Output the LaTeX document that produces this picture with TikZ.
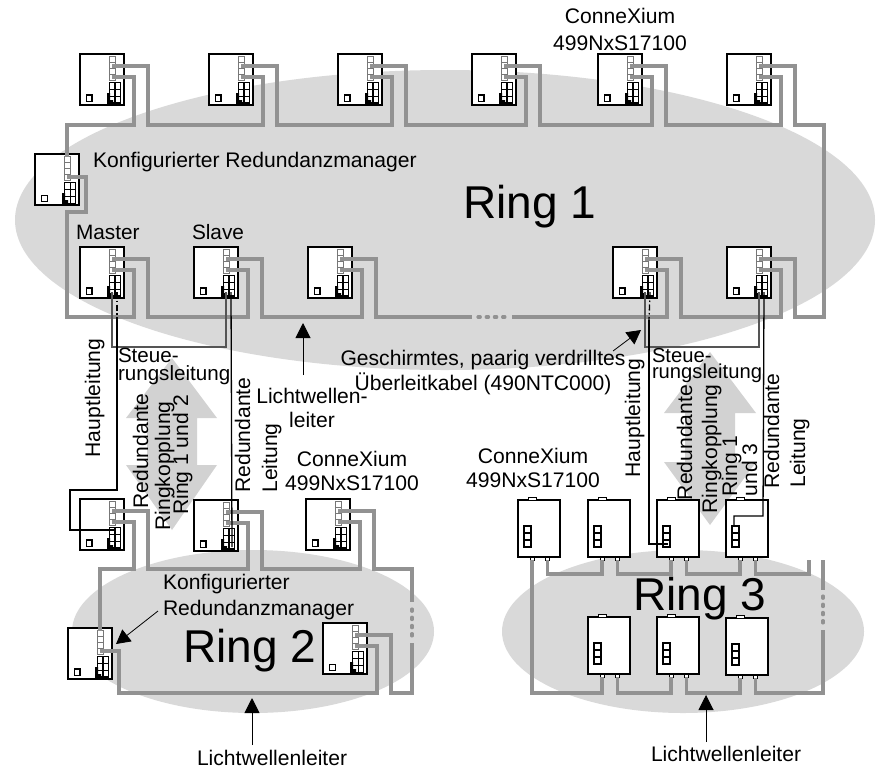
\documentclass[tikz,border=0pt]{standalone}
\usepackage{fontspec}
\setmainfont{Liberation Sans}
\usetikzlibrary{arrows.meta}
\definecolor{ringgray}{HTML}{D9D9D9}
\definecolor{arrowgray}{HTML}{D2D2D2}
\definecolor{cablegray}{HTML}{929292}
\definecolor{portgray}{HTML}{777777}
\definecolor{copper}{HTML}{555555}
\tikzset{
  swbox/.style={draw=black,fill=white,line width=1.3pt,inner sep=0pt,outer sep=0pt,minimum width=44pt,minimum height=51pt,anchor=north west},
  swtall/.style={draw=black,fill=white,line width=1.3pt,inner sep=0pt,outer sep=0pt,minimum width=42pt,minimum height=57pt,anchor=north west},
  cable/.style={draw=cablegray,line width=3.2pt,line join=miter},
  cabledots/.style={draw=cablegray,line width=3.2pt,line cap=round,dash pattern=on 2.3pt off 5.9pt},
  wire/.style={draw=black,line width=1.3pt},
  wiredash/.style={draw=black,line width=1.3pt,dash pattern=on 6pt off 2.5pt on 1.5pt off 2.5pt},
  copperwire/.style={draw=copper,line width=2.6pt},
  ptr/.style={draw=black,line width=1pt,-{Triangle[length=15pt,width=15pt]}},
  ptrs/.style={draw=black,line width=.8pt,-{Triangle[length=14pt,width=15pt]}},
  lab/.style={font=\fontsize{21.1}{23}\selectfont,inner sep=0pt,outer sep=0pt,anchor=base west},
  rlab/.style={font=\fontsize{21.1}{23}\selectfont,inner sep=0pt,outer sep=0pt,rotate=90,anchor=base},
  big/.style={font=\fontsize{46}{50}\selectfont,inner sep=0pt,outer sep=0pt,anchor=base west},
}
% switch with port column and terminal grid: name, x, y, grid line width
\newcommand{\swa}[4]{%
  \begin{scope}[shift={(#2,#3)}]
    \node[swbox] (#1) at (0,0) {};
    \draw[line width=#4] (6.5,41) rectangle (12,47.5);
    \draw[line width=#4] (29.5,28.5) rectangle (40.5,49);
    \draw[line width=#4] (35,28.5) -- (35,49) (29.5,35.5) -- (40.5,35.5) (29.5,42.5) -- (40.5,42.5);
    \fill[black] (27,39) -- (30,39) -- (30,46) -- (33,46) -- (33,50) -- (27,50) -- cycle;
    \foreach \yy in {2.5,8.5,14.5,20.5}
      \draw[line width=.8pt,draw=portgray,fill=white] (29.5,\yy) rectangle (35.5,\yy+6);
    \coordinate (#1-p1) at (32,3);
    \coordinate (#1-p2) at (32,12);
    \coordinate (#1-p3) at (32,23);
    \coordinate (#1-o2) at (68,12);
    \coordinate (#1-o3) at (54,23);
    \coordinate (#1-n) at (51,23);
    \coordinate (#1-a) at (32,45);
    \coordinate (#1-b) at (37,45);
  \end{scope}}
\newcommand{\swb}[3]{%
  \begin{scope}[shift={(#2,#3)}]
    \node[swtall] (#1) at (0,0) {};
    \draw[line width=1pt,fill=white] (10,-3) rectangle (18,0);
    \draw[line width=1pt,fill=white] (12,57) rectangle (16,60);
    \draw[line width=1pt,fill=white] (27.5,57) rectangle (31.5,60);
    \draw[line width=1.2pt] (6,26) rectangle (13,47) (6,33) -- (13,33) (6,40) -- (13,40);
    \coordinate (#1-t) at (8,26);
    \coordinate (#1-m) at (10.5,44);
    \coordinate (#1-l) at (14,60);
    \coordinate (#1-r) at (29.5,60);
  \end{scope}}
% ring cable between two switches along a named bus level
\newcommand{\lnk}[3]{\draw[cable] (#1-p2) -- (#1-o2) -- (#1-o2 |- #3) -- (#2-o3 |- #3) -- (#2-o3) -- (#2-p3);}
\newcommand{\lnb}[3]{\draw[cable] (#1-r) -- (#1-r |- #3) -- (#2-l |- #3) -- (#2-l);}
\begin{document}
\begin{tikzpicture}[x=1pt,y=-1pt]
\useasboundingbox (0,0) rectangle (882,769);
% rings
\fill[ringgray] (445,220) ellipse [x radius=430,y radius=150];
\fill[ringgray] (253,631.5) ellipse [x radius=181,y radius=81.5];
\fill[ringgray] (683,631.5) ellipse [x radius=181,y radius=81.5];
% double arrows
\fill[arrowgray] (172,358) -- (217,418) -- (197,418) -- (197,465) -- (217,465) -- (172,530) -- (126,465) -- (147,465) -- (147,418) -- (126,418) -- cycle;
\fill[arrowgray] (710,352) -- (756,413) -- (735,413) -- (735,462) -- (756,462) -- (710,525) -- (664,462) -- (685,462) -- (685,413) -- (664,413) -- cycle;
% buses
\coordinate (busA) at (0,125);
\coordinate (busB) at (0,317);
\coordinate (busC) at (0,569);
\coordinate (busD) at (0,693);
\coordinate (busE) at (0,574);
\coordinate (busF) at (0,693);
\coordinate (colL) at (67,0);
\coordinate (colR) at (824,0);
\coordinate (rise) at (0,212);
\coordinate (dotA) at (472,317);
\coordinate (dotA2) at (478,317);
\coordinate (dotB2) at (506,317);
\coordinate (dotB) at (512,317);
\coordinate (colS) at (412,0);
\coordinate (colT) at (823,0);
\coordinate (hL) at (0,347);
% ring 1 switches
\swa{t1}{80}{54}{1.2pt}
\swa{t2}{209}{54}{1.2pt}
\swa{t3}{338}{54}{1.2pt}
\swa{t4}{472}{54}{1.2pt}
\swa{t5}{598}{54}{1.2pt}
\swa{t6}{727}{54}{1.2pt}
\swa{k}{35}{154}{.8pt}
\swa{m}{80}{247}{1.2pt}
\swa{s}{194}{247}{1.2pt}
\swa{c}{308}{247}{1.2pt}
\swa{d}{613}{247}{1.2pt}
\swa{e}{727}{247}{1.2pt}
% ring 2 switches
\swa{u1}{80}{499}{1.2pt}
\swa{u2}{194}{500}{1.2pt}
\swa{u3}{306}{499}{1.2pt}
\swa{ll}{68}{628}{1.2pt}
\swa{lr}{323}{623}{.8pt}
% ring 3 switches
\swb{v1}{518}{500}
\swb{v2}{588}{500}
\swb{v3}{657}{500}
\swb{v4}{726}{500}
\swb{w1}{588}{617}
\swb{w2}{657}{617}
\swb{w3}{726}{618}
% ring 1 cables
\lnk{t1}{t2}{busA}
\lnk{t2}{t3}{busA}
\lnk{t3}{t4}{busA}
\lnk{t4}{t5}{busA}
\lnk{t5}{t6}{busA}
\draw[cable] (t1-p3) -- (t1-o3) -- (t1-o3 |- busA) -- (colL |- busA) -- (k-p1);
\draw[cable] (k-p3) -- (k-n) -- (k-n |- rise) -- (colL |- rise) -- (colL |- busB) -- (m-o3 |- busB) -- (m-o3) -- (m-p3);
\lnk{m}{s}{busB}
\lnk{s}{c}{busB}
\draw[cable] (c-p2) -- (c-o2) -- (c-o2 |- busB) -- (dotA);
\draw[cabledots] (dotA2) -- (dotB2);
\draw[cable] (dotB) -- (d-o3 |- busB) -- (d-o3) -- (d-p3);
\lnk{d}{e}{busB}
\draw[cable] (e-p2) -- (e-o2) -- (e-o2 |- busB) -- (colR |- busB) -- (colR |- busA) -- (t6-o2 |- busA) -- (t6-o2) -- (t6-p2);
% ring 2 cables
\lnk{u1}{u2}{busC}
\lnk{u2}{u3}{busC}
\coordinate (dotC) at (412,602);
\coordinate (dotC2) at (412,609);
\coordinate (dotD2) at (412,637);
\coordinate (dotD) at (412,643);
\draw[cable] (u1-p3) -- (u1-o3) -- (u1-o3 |- busC) -- (ll-p1 |- busC) -- (ll-p1);
\draw[cable] (u3-p2) -- (u3-o2) -- (u3-o2 |- busC) -- (colS |- busC) -- (dotC);
\draw[cabledots] (dotC2) -- (dotD2);
\draw[cable] (dotD) -- (colS |- busD) -- (lr-o2 |- busD) -- (lr-o2) -- (lr-p2);
\draw[cable] (ll-p3) -- (ll-n) -- (ll-n |- busD) -- (lr-o3 |- busD) -- (lr-o3) -- (lr-p3);
% ring 3 cables
\coordinate (cutA) at (809,560);
\coordinate (cutB) at (823,560);
\coordinate (dotE) at (823,590);
\coordinate (dotE2) at (823,596);
\coordinate (dotF2) at (823,624);
\coordinate (dotF) at (823,630);
\lnb{v1}{v2}{busE}
\lnb{v2}{v3}{busE}
\lnb{v3}{v4}{busE}
\draw[cable] (v4-r) -- (v4-r |- busE) -- (cutA |- busE) -- (cutA);
\draw[cable] (cutB) -- (dotE);
\draw[cabledots] (dotE2) -- (dotF2);
\draw[cable] (dotF) -- (colT |- busF) -- (w3-r |- busF) -- (w3-r);
\lnb{w1}{w2}{busF}
\lnb{w2}{w3}{busF}
\draw[cable] (v1-l) -- (v1-l |- busF) -- (w1-l |- busF) -- (w1-l);
% coupling lines ring 1 - ring 2
\draw[copperwire] (m-a) -- (m-a |- hL) -- (s-a |- hL) -- (s-a);
\coordinate (hA) at (117,320);
\coordinate (hB) at (117,490);
\coordinate (hC) at (70,490);
\coordinate (hD) at (70,530);
\coordinate (uA) at (114,530);
\draw[wiredash] (m-b) -- (hA);
\draw[wire] (hA) -- (hB) -- (hC) -- (hD) -- (uA);
\coordinate (uB) at (232,547);
\draw[wire] (s-b) -- (uB);
% coupling lines ring 1 - ring 3
\coordinate (hE) at (649,320);
\coordinate (hF) at (649,544);
\coordinate (hG) at (763,516);
\coordinate (hH) at (734,516);
\draw[copperwire] (d-a) -- (d-a |- hL) -- (e-a |- hL) -- (e-a);
\draw[wiredash] (d-b) -- (hE);
\draw[wire] (hE) -- (hF) -- (v3-m);
\draw[wire] (e-b) -- (hG) -- (hH) -- (v4-t);
% texts
\node[lab,align=center,anchor=north,font=\fontsize{21.1}{27}\selectfont] (tc) at (620,8) {ConneXium\\499NxS17100};
\node[lab] (tk) at (93,167) {Konfigurierter Redundanzmanager};
\node[lab,font=\fontsize{20.8}{23}\selectfont] (tm) at (76,239) {Master};
\node[lab,font=\fontsize{20.8}{23}\selectfont] (ts) at (192,239) {Slave};
\node[big] (r1) at (463,218) {Ring 1};
\node[big] (r2) at (183,662) {Ring 2};
\node[big] (r3) at (633,610) {Ring 3};
\node[lab,align=center,anchor=north,font=\fontsize{21.1}{25}\selectfont] (g) at (483,350) {Geschirmtes, paarig verdrilltes\\Überleitkabel (490NTC000)};
\node[lab,align=left,anchor=north west,font=\fontsize{20.6}{18}\selectfont] (st1) at (118,348) {Steue-\\rungsleitung};
\node[lab,align=left,anchor=north west,font=\fontsize{20.2}{16}\selectfont] (st2) at (652,348.3) {Steue-\\rungsleitung};
\node[lab,align=center,anchor=north,font=\fontsize{21.1}{24}\selectfont] (lw) at (312,388) {Lichtwellen-\\leiter};
\node[lab,align=center,anchor=north,font=\fontsize{21.1}{24}\selectfont] (c1) at (352,451) {ConneXium\\499NxS17100};
\node[lab,align=center,anchor=north,font=\fontsize{21.1}{24}\selectfont] (c2) at (533,448) {ConneXium\\499NxS17100};
\node[lab,align=left,anchor=north west,font=\fontsize{21.1}{26}\selectfont] (kk) at (163,574) {Konfigurierter\\Redundanzmanager};
\node[lab] (lb1) at (197,765) {Lichtwellenleiter};
\node[lab] (lb2) at (651,761) {Lichtwellenleiter};
\node[rlab] (h1) at (100,398) {Hauptleitung};
\node[rlab] (rd1) at (148,451) {Redundante};
\node[rlab] (rk1) at (170,466) {Ringkopplung};
\node[rlab] (rr1) at (188,455) {Ring 1 und 2};
\node[rlab] (rl1) at (250,435) {Redundante};
\node[rlab] (ll1) at (277,458) {Leitung};
\node[rlab] (h2) at (640,418) {Hauptleitung};
\node[rlab] (rd2) at (692,442.5) {Redundante};
\node[rlab] (rk2) at (717,449) {Ringkopplung};
\node[rlab] (rr2) at (737,466) {Ring 1};
\node[rlab] (rr3) at (757,470) {und 3};
\node[rlab] (rl2) at (779,431) {Redundante};
\node[rlab] (ll2) at (805,453) {Leitung};
% pointers
\coordinate (pa) at (303,375);
\coordinate (pb) at (303,323);
\draw[ptr] (pa) -- (pb);
\coordinate (pc) at (613,351);
\coordinate (pd) at (641,330);
\draw[ptrs] (pc) -- (pd);
\coordinate (pe) at (158,611);
\coordinate (pf) at (116,644);
\draw[ptrs] (pe) -- (pf);
\coordinate (pg) at (252,745);
\coordinate (ph) at (252,698);
\draw[ptr] (pg) -- (ph);
\coordinate (pi) at (706,742);
\coordinate (pj) at (706,695);
\draw[ptr] (pi) -- (pj);
\end{tikzpicture}
\end{document}
